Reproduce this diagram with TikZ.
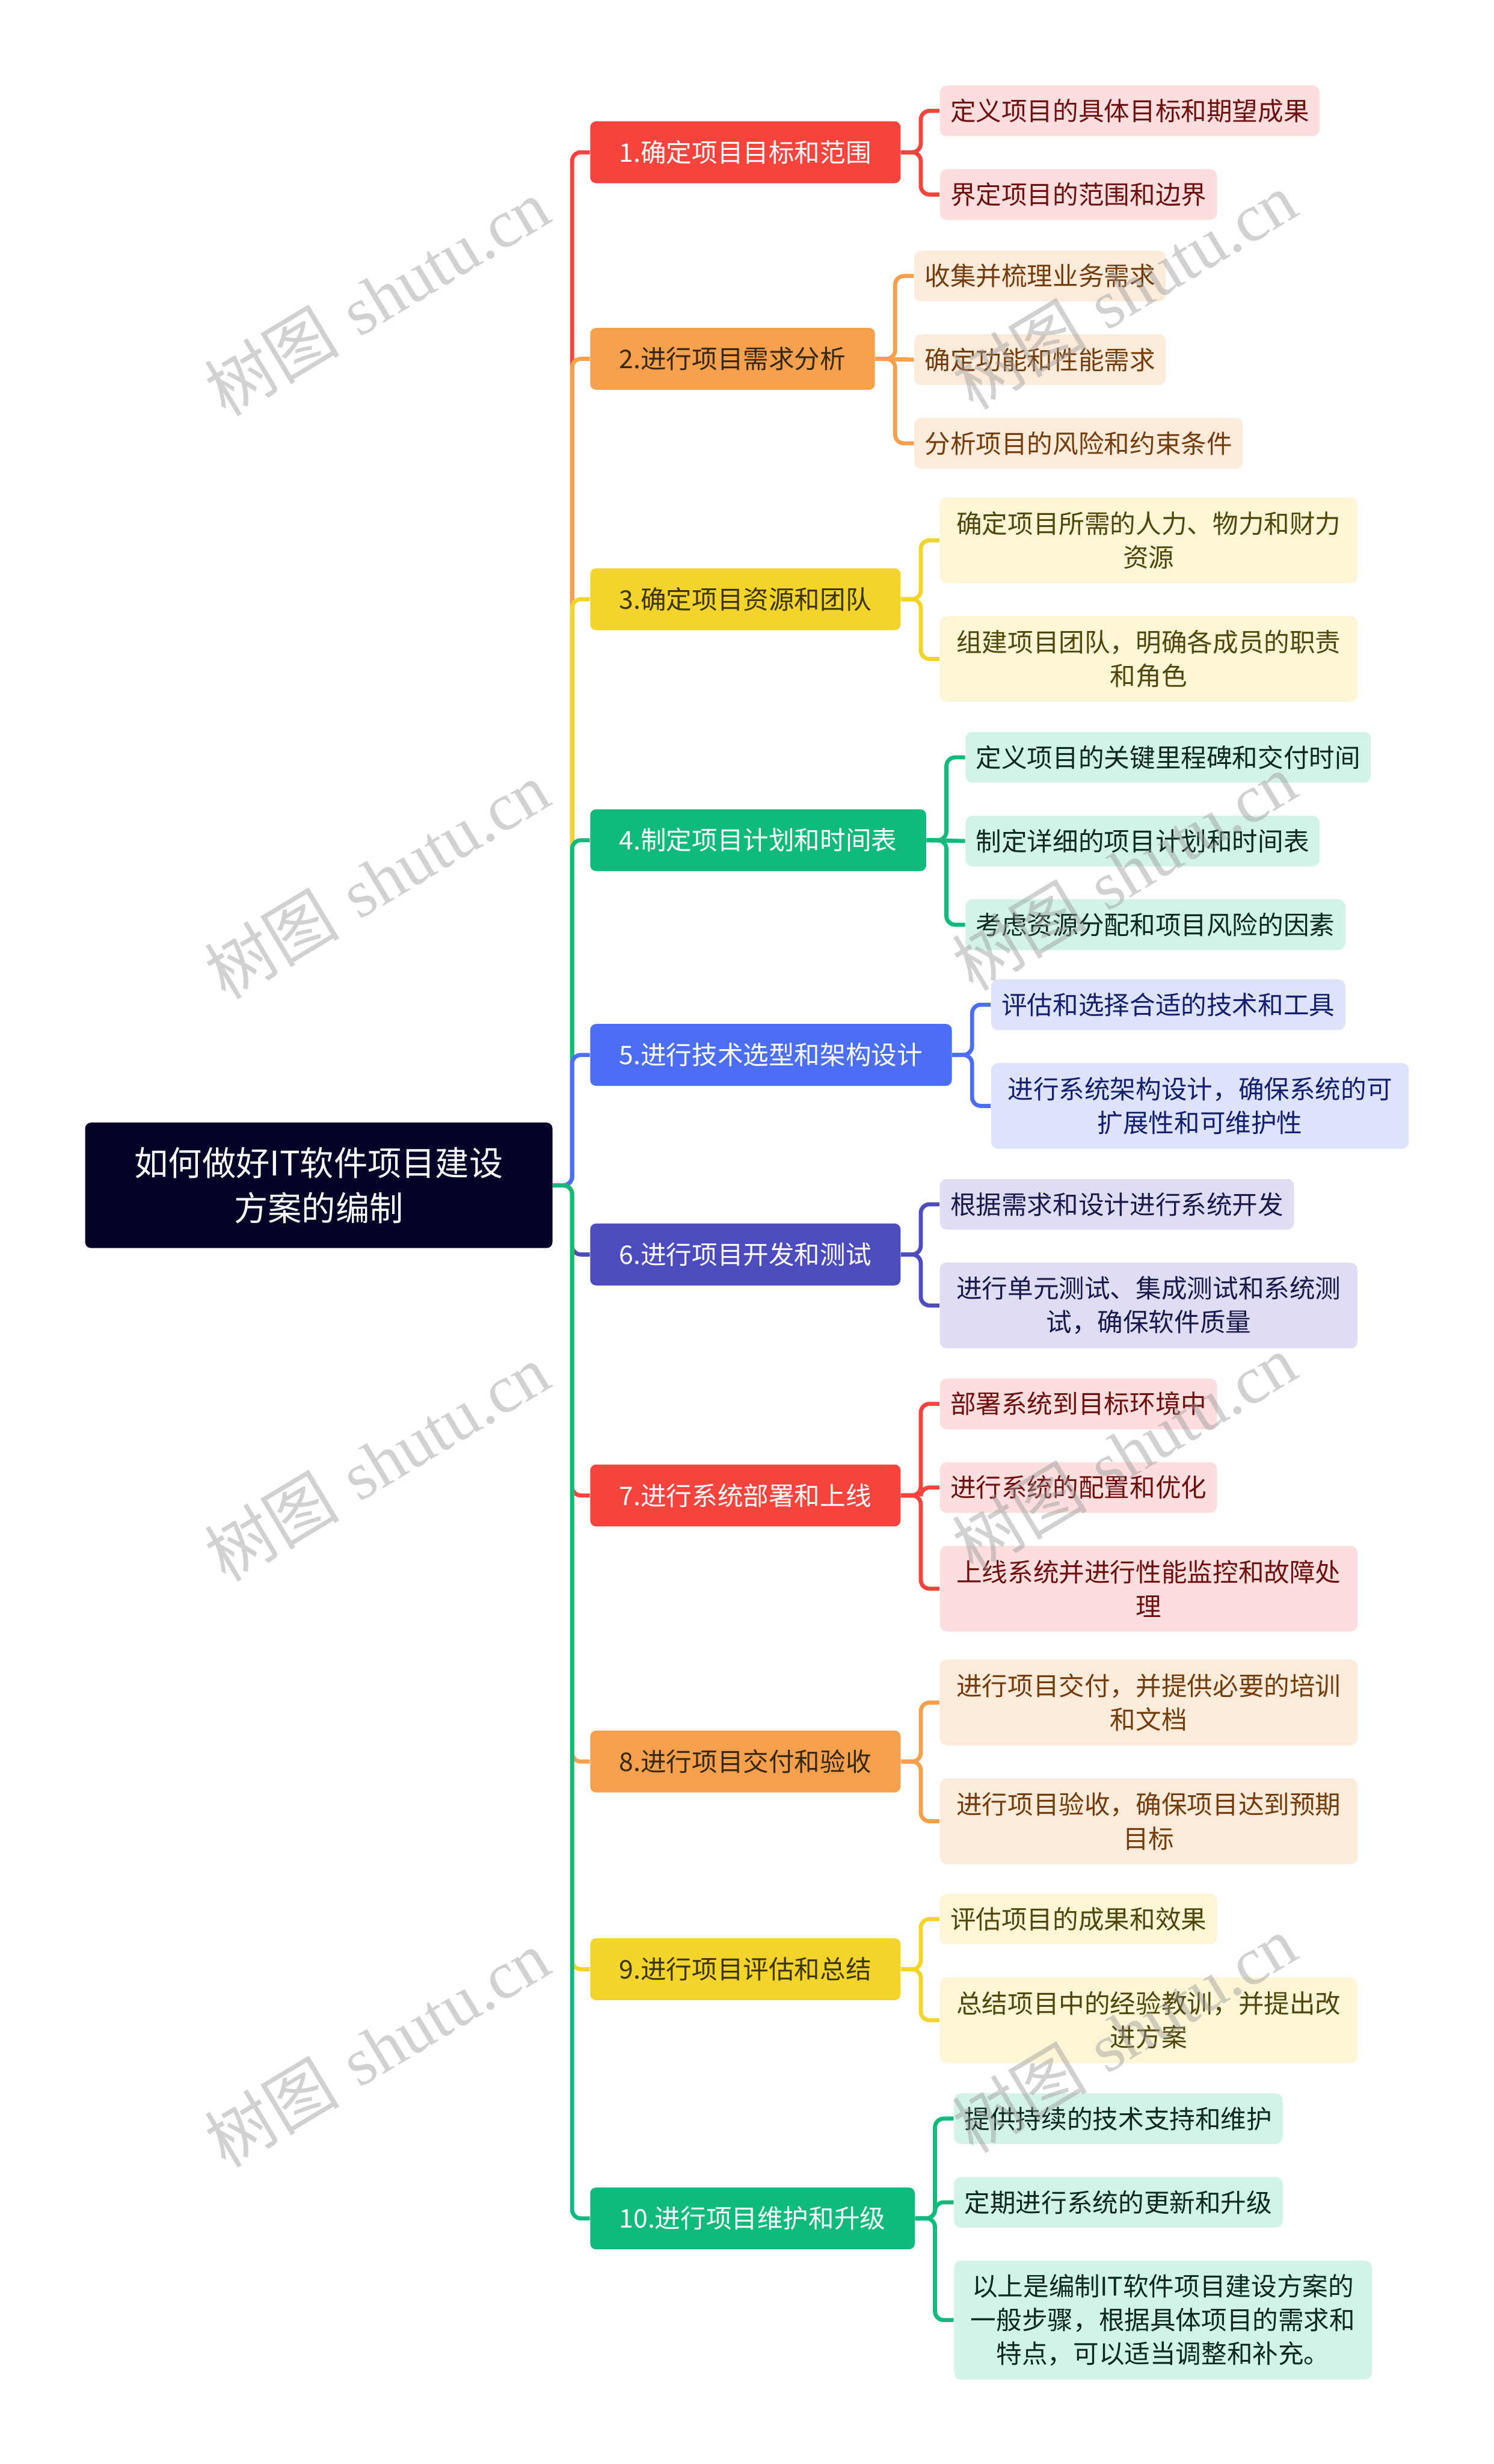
\documentclass[tikz,border=0pt]{standalone}
\usepackage{fontspec}
\usepackage{tikz}
\usetikzlibrary{positioning}
\newfontfamily\cjk{Noto Sans CJK SC}
\newfontfamily\wmfont{Liberation Serif}

\definecolor{rootbg}{HTML}{030327}
\definecolor{cRed}{HTML}{F4443D}
\definecolor{cOrg}{HTML}{F5A04D}
\definecolor{cYel}{HTML}{F2D42A}
\definecolor{cGrn}{HTML}{0FBA7C}
\definecolor{cBlu}{HTML}{4C6EF5}
\definecolor{cPur}{HTML}{4D4CBE}
\definecolor{lRed}{HTML}{FDDEDE}
\definecolor{lOrg}{HTML}{FCEBDB}
\definecolor{lYel}{HTML}{FCF6D6}
\definecolor{lGrn}{HTML}{D2F3E5}
\definecolor{lBlu}{HTML}{DCE3FB}
\definecolor{lPur}{HTML}{DEDDF3}
\definecolor{tRed}{HTML}{6E0F0F}
\definecolor{tOrg}{HTML}{733C0A}
\definecolor{tYel}{HTML}{50460A}
\definecolor{tGrn}{HTML}{0A281E}
\definecolor{tBlu}{HTML}{141E6E}
\definecolor{tPur}{HTML}{19194B}
\definecolor{tOrgB}{HTML}{372814}
\definecolor{tYelB}{HTML}{3C340A}

\begin{document}
\begin{tikzpicture}[
    topic/.style={
        rectangle, rounded corners=0.1cm,
        minimum width=8.01cm, minimum height=2.15cm,
        fill=rootbg, text=white, align=center,
        font=\cjk\fontsize{16.5}{22}\selectfont
    },
    branch/.style={
        rectangle, rounded corners=0.1cm,
        minimum height=1.06cm, inner xsep=0.5cm, inner ysep=0pt,
        anchor=west,
        font=\cjk\fontsize{12.5}{16.5}\selectfont
    },
    leaf/.style={
        rectangle, rounded corners=0.12cm,
        minimum height=0.87cm, inner xsep=0.18cm, inner ysep=0pt,
        font=\cjk\fontsize{12.5}{16.5}\selectfont
    },
    leaftwo/.style={leaf, text width=6.8cm, align=center, minimum height=1.47cm},
    leafthree/.style={leaf, text width=6.8cm, align=center, minimum height=2.04cm},
    link/.style={line width=0.07cm, rounded corners=0.15cm},
    wmark/.style={text=black!40, opacity=0.45, rotate=31,
        font=\fontsize{33}{33}\selectfont},
    node distance=0.55cm and 0.66cm   % leaf gap, branch-to-leaf gap
]
\useasboundingbox (0,0) rectangle (25.6,-42.23);

% --- CENTRAL TOPIC ---
\node[topic] (root) at (5.465,-20.315) {如何做好IT软件项目建设\\方案的编制};

% --- MAIN STEPS (all on one column) ---
\node[branch, fill=cRed, text=white] (s1) at (10.11,-2.61) {1.确定项目目标和范围};
\node[branch, fill=cOrg, text=tOrgB] (s2) at (10.11,-6.15) {2.进行项目需求分析};
\node[branch, fill=cYel, text=tYelB] (s3) at (10.11,-10.27) {3.确定项目资源和团队};
\node[branch, fill=cGrn, text=white] (s4) at (10.11,-14.40) {4.制定项目计划和时间表};
\node[branch, fill=cBlu, text=white] (s5) at (10.11,-18.08) {5.进行技术选型和架构设计};
\node[branch, fill=cPur, text=white] (s6) at (10.11,-21.50) {6.进行项目开发和测试};
\node[branch, fill=cRed, text=white] (s7) at (10.11,-25.63) {7.进行系统部署和上线};
\node[branch, fill=cOrg, text=tOrgB] (s8) at (10.11,-30.19) {8.进行项目交付和验收};
\node[branch, fill=cYel, text=tYelB] (s9) at (10.11,-33.75) {9.进行项目评估和总结};
\node[branch, fill=cGrn, text=white] (s10) at (10.11,-38.02) {10.进行项目维护和升级};

% --- DETAILS: first one next to its step, the others stacked below ---
\node[leaf, fill=lRed, text=tRed, right=of s1, yshift=0.71cm] (s1a) {定义项目的具体目标和期望成果};
\node[leaf, fill=lRed, text=tRed, below=of s1a.south west, anchor=north west] (s1b) {界定项目的范围和边界};

\node[leaf, fill=lOrg, text=tOrg, right=of s2, yshift=1.42cm] (s2a) {收集并梳理业务需求};
\node[leaf, fill=lOrg, text=tOrg, below=of s2a.south west, anchor=north west] (s2b) {确定功能和性能需求};
\node[leaf, fill=lOrg, text=tOrg, below=of s2b.south west, anchor=north west] (s2c) {分析项目的风险和约束条件};

\node[leaftwo, fill=lYel, text=tYel, right=of s3, yshift=1.01cm] (s3a) {确定项目所需的人力、物力和财力\\资源};
\node[leaftwo, fill=lYel, text=tYel, below=of s3a.south west, anchor=north west] (s3b) {组建项目团队，明确各成员的职责\\和角色};

\node[leaf, fill=lGrn, text=tGrn, right=of s4, yshift=1.42cm] (s4a) {定义项目的关键里程碑和交付时间};
\node[leaf, fill=lGrn, text=tGrn, below=of s4a.south west, anchor=north west] (s4b) {制定详细的项目计划和时间表};
\node[leaf, fill=lGrn, text=tGrn, below=of s4b.south west, anchor=north west] (s4c) {考虑资源分配和项目风险的因素};

\node[leaf, fill=lBlu, text=tBlu, right=of s5, yshift=0.86cm] (s5a) {评估和选择合适的技术和工具};
\node[leaftwo, fill=lBlu, text=tBlu, below=of s5a.south west, anchor=north west] (s5b) {进行系统架构设计，确保系统的可\\扩展性和可维护性};

\node[leaf, fill=lPur, text=tPur, right=of s6, yshift=0.86cm] (s6a) {根据需求和设计进行系统开发};
\node[leaftwo, fill=lPur, text=tPur, below=of s6a.south west, anchor=north west] (s6b) {进行单元测试、集成测试和系统测\\试，确保软件质量};

\node[leaf, fill=lRed, text=tRed, right=of s7, yshift=1.57cm] (s7a) {部署系统到目标环境中};
\node[leaf, fill=lRed, text=tRed, below=of s7a.south west, anchor=north west] (s7b) {进行系统的配置和优化};
\node[leaftwo, fill=lRed, text=tRed, below=of s7b.south west, anchor=north west] (s7c) {上线系统并进行性能监控和故障处\\理};

\node[leaftwo, fill=lOrg, text=tOrg, right=of s8, yshift=1.01cm] (s8a) {进行项目交付，并提供必要的培训\\和文档};
\node[leaftwo, fill=lOrg, text=tOrg, below=of s8a.south west, anchor=north west] (s8b) {进行项目验收，确保项目达到预期\\目标};

\node[leaf, fill=lYel, text=tYel, right=of s9, yshift=0.86cm] (s9a) {评估项目的成果和效果};
\node[leaftwo, fill=lYel, text=tYel, below=of s9a.south west, anchor=north west] (s9b) {总结项目中的经验教训，并提出改\\进方案};

\node[leaf, fill=lGrn, text=tGrn, right=of s10, yshift=1.71cm] (s10a) {提供持续的技术支持和维护};
\node[leaf, fill=lGrn, text=tGrn, below=of s10a.south west, anchor=north west] (s10b) {定期进行系统的更新和升级};
\node[leafthree, fill=lGrn, text=tGrn, below=of s10b.south west, anchor=north west] (s10c) {以上是编制IT软件项目建设方案的\\一般步骤，根据具体项目的需求和\\特点，可以适当调整和补充。};

% --- LINKS: root -> steps (later ones cover the shared spine) ---
\draw[link, cRed] (root.east) -- ++(0.33,0) |- (s1.west);
\draw[link, cOrg] (root.east) -- ++(0.33,0) |- (s2.west);
\draw[link, cYel] (root.east) -- ++(0.33,0) |- (s3.west);
\draw[link, cGrn] (root.east) -- ++(0.33,0) |- (s4.west);
\draw[link, cBlu] (root.east) -- ++(0.33,0) |- (s5.west);
\draw[link, cPur] (root.east) -- ++(0.33,0) |- (s6.west);
\draw[link, cRed] (root.east) -- ++(0.33,0) |- (s7.west);
\draw[link, cOrg] (root.east) -- ++(0.33,0) |- (s8.west);
\draw[link, cYel] (root.east) -- ++(0.33,0) |- (s9.west);
\draw[link, cGrn] (root.east) -- ++(0.33,0) |- (s10.west);

% --- LINKS: steps -> details ---
\draw[link, cRed] (s1.east) -- ++(0.34,0) |- (s1a.west);
\draw[link, cRed] (s1.east) -- ++(0.34,0) |- (s1b.west);
\draw[link, cOrg] (s2.east) -- ++(0.34,0) |- (s2a.west);
\draw[link, cOrg] (s2.east) -- (s2b.west);
\draw[link, cOrg] (s2.east) -- ++(0.34,0) |- (s2c.west);
\draw[link, cYel] (s3.east) -- ++(0.34,0) |- (s3a.west);
\draw[link, cYel] (s3.east) -- ++(0.34,0) |- (s3b.west);
\draw[link, cGrn] (s4.east) -- ++(0.34,0) |- (s4a.west);
\draw[link, cGrn] (s4.east) -- (s4b.west);
\draw[link, cGrn] (s4.east) -- ++(0.34,0) |- (s4c.west);
\draw[link, cBlu] (s5.east) -- ++(0.34,0) |- (s5a.west);
\draw[link, cBlu] (s5.east) -- ++(0.34,0) |- (s5b.west);
\draw[link, cPur] (s6.east) -- ++(0.34,0) |- (s6a.west);
\draw[link, cPur] (s6.east) -- ++(0.34,0) |- (s6b.west);
\draw[link, cRed] (s7.east) -- ++(0.34,0) |- (s7a.west);
\draw[link, cRed] (s7.east) -- ++(0.34,0) |- (s7b.west);
\draw[link, cRed] (s7.east) -- ++(0.34,0) |- (s7c.west);
\draw[link, cOrg] (s8.east) -- ++(0.34,0) |- (s8a.west);
\draw[link, cOrg] (s8.east) -- ++(0.34,0) |- (s8b.west);
\draw[link, cYel] (s9.east) -- ++(0.34,0) |- (s9a.west);
\draw[link, cYel] (s9.east) -- ++(0.34,0) |- (s9b.west);
\draw[link, cGrn] (s10.east) -- ++(0.34,0) |- (s10a.west);
\draw[link, cGrn] (s10.east) -- ++(0.34,0) |- (s10b.west);
\draw[link, cGrn] (s10.east) -- ++(0.34,0) |- (s10c.west);

% --- WATERMARKS ---
\node[wmark] (wm1) at (6.46,-5.09) {{\cjk 树图} {\wmfont shutu.cn}};
\node[wmark] (wm2) at (6.46,-15.08) {{\cjk 树图} {\wmfont shutu.cn}};
\node[wmark] (wm3) at (6.46,-25.06) {{\cjk 树图} {\wmfont shutu.cn}};
\node[wmark] (wm4) at (6.46,-35.10) {{\cjk 树图} {\wmfont shutu.cn}};
\node[wmark] (wm5) at (19.27,-4.98) {{\cjk 树图} {\wmfont shutu.cn}};
\node[wmark] (wm6) at (19.27,-14.94) {{\cjk 树图} {\wmfont shutu.cn}};
\node[wmark] (wm7) at (19.27,-24.90) {{\cjk 树图} {\wmfont shutu.cn}};
\node[wmark] (wm8) at (19.27,-34.86) {{\cjk 树图} {\wmfont shutu.cn}};

\end{tikzpicture}
\end{document}
